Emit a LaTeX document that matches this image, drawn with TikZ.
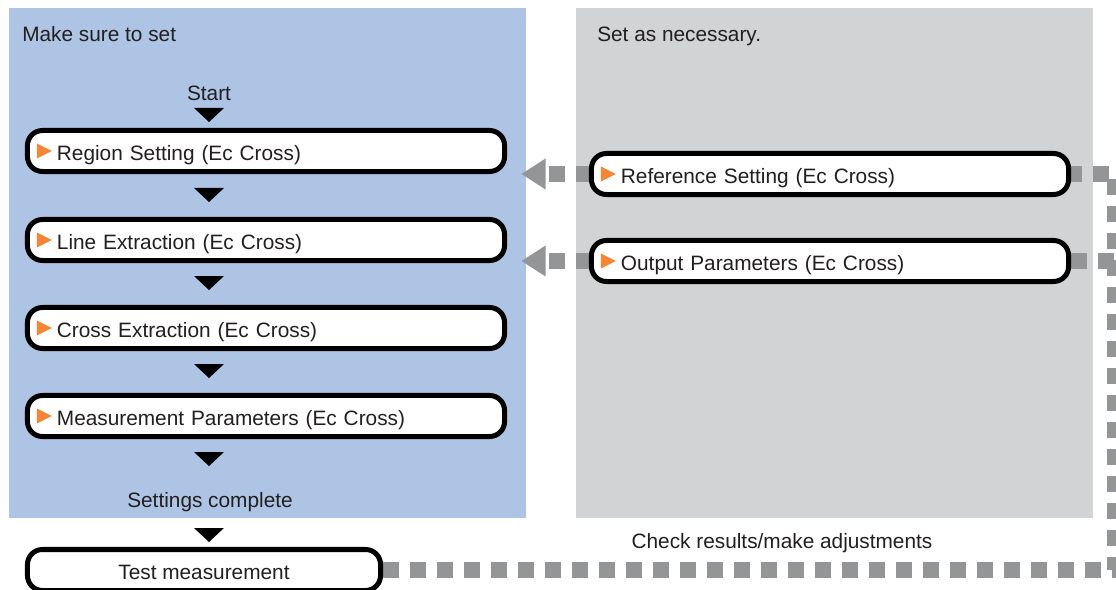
\documentclass[tikz,border=0pt]{standalone}
\usepackage{fontspec}
\setmainfont{Liberation Sans}
\usetikzlibrary{arrows.meta, calc}
\definecolor{mustfill}{HTML}{ADC4E4}
\definecolor{optfill}{HTML}{D1D3D4}
\definecolor{linkgray}{HTML}{949597}
\definecolor{marker}{HTML}{F58634}
\definecolor{ink}{HTML}{231F20}
\pgfdeclarelayer{panels}
\pgfdeclarelayer{links}
\pgfsetlayers{panels,links,main}

\begin{document}
\begin{tikzpicture}[
    x=0.025cm, y=-0.025cm,
    every node/.style={font=\fontsize{14.8pt}{17.8pt}\selectfont, text=ink},
    header/.style={anchor=base west, inner xsep=0pt},
    flowbox/.style={draw=black, line width=0.125cm, rounded corners=0.375cm, fill=white, minimum height=1.025cm, inner ysep=0pt, text height=14.5pt, text depth=1pt},
    setbox/.style={flowbox, minimum width=11.925cm, text width=10.45cm, inner xsep=0.7375cm, align=left,
        path picture={\fill[marker, sharp corners] ([xshift=0.2375cm, yshift=0.1875cm]path picture bounding box.west) -- ++(0.375cm,-0.1875cm) -- ++(-0.375cm,-0.1875cm) -- cycle;}},
    testbox/.style={flowbox, minimum width=8.825cm, align=center},
    link/.style={draw=linkgray, line width=0.4cm, dash pattern=on 0.4cm off 0.275cm},
    back/.style={-{Triangle[length=0.6cm, width=0.775cm, line width=0pt]}, dash phase=0.075cm},
]
    \useasboundingbox (0,0) rectangle (1116,590);

    % Panels
    \begin{pgfonlayer}{panels}
        \fill[mustfill] (9,8) rectangle (526,518);
        \fill[optfill] (576,8) rectangle (1093,518);
    \end{pgfonlayer}

    \node[header] (must) at (22,42) {Make sure to set};
    \node[header] (opt) at (597,42) {Set as necessary.};

    % Required settings
    \node[anchor=base] (start) at (209,101) {Start};
    \node[setbox] (reg) at (266,151) {Region Setting (Ec Cross)};
    \node[setbox] (lin) at (266,240) {Line Extraction (Ec Cross)};
    \node[setbox] (crs) at (266,328) {Cross Extraction (Ec Cross)};
    \node[setbox] (meas) at (266,416) {Measurement Parameters (Ec Cross)};
    \node[anchor=base] (done) at (210,507) {Settings complete};
    \node[testbox] (test) at (204,570) {Test measurement};

    \foreach \ty in {115,195,283,371,459,535}
        \fill[black] (194,\ty-7) -- (224,\ty-7) -- (209,\ty+7) -- cycle;

    % Optional settings
    \node[setbox] (ref) at (830,174) {Reference Setting (Ec Cross)};
    \node[setbox] (outp) at (830,261) {Output Parameters (Ec Cross)};

    \node[anchor=base] (check) at (782,548) {Check results/make adjustments};

    % Feedback connectors
    \coordinate (rail) at (1115,0);
    \begin{pgfonlayer}{links}
        \draw[link, back] (ref.west) -- ([xshift=0.3625cm]reg.east |- ref.west);
        \draw[link, back] (outp.west) -- ([xshift=0.3625cm]lin.east |- outp.west);
        \draw[link] (test.east) -- (test.east -| rail) |- (ref.east);
        \draw[link] (outp.east) -- (outp.east -| rail);
    \end{pgfonlayer}

\end{tikzpicture}
\end{document}
